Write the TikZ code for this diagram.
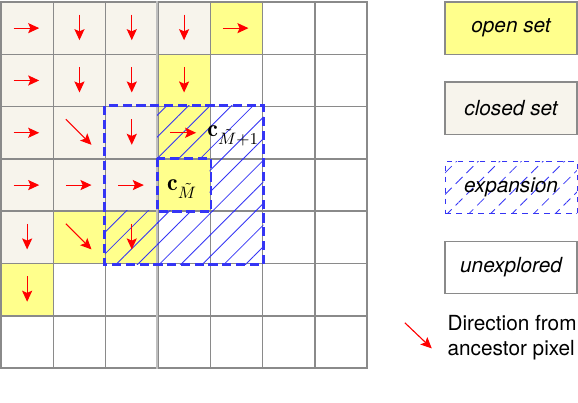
\documentclass[tikz,border=0pt]{standalone}
\usepackage{fontspec}
\setsansfont{TeX Gyre Heros}
\usetikzlibrary{arrows.meta,patterns.meta,positioning}
\definecolor{openc}{HTML}{FFFF8C}
\definecolor{closedc}{HTML}{F7F4EC}
\definecolor{gridc}{HTML}{8A8A8A}
\definecolor{expc}{HTML}{3535F5}
\begin{document}
\begin{tikzpicture}[x=1cm,y=1cm,
  cell/.style={rectangle,draw=gridc,line width=0.8pt,minimum size=1cm,inner sep=0pt},
  openset/.style={fill=openc},
  closedset/.style={fill=closedc},
  unexpl/.style={fill=white},
  hatch/.style={pattern={Lines[angle=45,distance=8.3pt,line width=0.45pt]},pattern color=expc},
  dir/.style={red,line width=0.6pt,-{Stealth[length=6pt,width=5.5pt,inset=1.2pt]}},
  expborder/.style={draw=expc,line width=1.6pt,dash pattern=on 5pt off 2.5pt},
  legbox/.style={rectangle,draw=gridc,line width=0.8pt,minimum width=2.52cm,minimum height=1cm,
                 font=\fontsize{11.3}{13.6}\selectfont\sffamily\itshape},
  node distance=5mm]
\useasboundingbox (-0.019,-0.648) rectangle (11.03,7.038);

% grid of pixels
\foreach \row [count=\r from 0] in {
  {closedset,closedset,closedset,closedset,openset,unexpl,unexpl},
  {closedset,closedset,closedset,openset,unexpl,unexpl,unexpl},
  {closedset,closedset,closedset,openset,unexpl,unexpl,unexpl},
  {closedset,closedset,closedset,openset,unexpl,unexpl,unexpl},
  {closedset,openset,openset,unexpl,unexpl,unexpl,unexpl},
  {openset,unexpl,unexpl,unexpl,unexpl,unexpl,unexpl},
  {unexpl,unexpl,unexpl,unexpl,unexpl,unexpl,unexpl}}
  \foreach \s [count=\c from 0] in \row
    \node[cell,\s] (p\r\c) at (\c+0.5,6.5-\r) {};
\draw[gridc!55,line width=0.8pt] (p03.north west) -- (p63.south west);

% expansion of the current pixel
\foreach \p in {p23,p24,p34,p42,p43,p44}
  \path[hatch] (\p.south west) rectangle (\p.north east);

% direction from ancestor pixel
\foreach \p/\dx/\dy in {p00/1/0,p01/0/-1,p02/0/-1,p03/0/-1,p04/1/0,
                        p10/1/0,p11/0/-1,p12/0/-1,p13/0/-1,
                        p20/1/0,p21/1/-1,p22/0/-1,p23/1/0,
                        p30/1/0,p31/1/0,p32/1/0,
                        p40/0/-1,p41/1/-1,p42/0/-1,p50/0/-1}
  \draw[dir] (\p.center) ++(-0.26*\dx,-0.26*\dy) -- ++(0.49*\dx,0.49*\dy);

\draw[expborder] (p22.north west) rectangle (p44.south east);
\draw[expborder] (p33.north west) rectangle (p33.south east);

\node[anchor=base west,inner sep=0pt,font=\fontsize{13}{15}\selectfont] (cnext) at (3.94,4.42)
  {$\mathbf{c}_{\tilde M+1}$};
\node[anchor=base west,inner sep=0pt,font=\fontsize{13}{15}\selectfont] (ccur) at (3.17,3.39)
  {$\mathbf{c}_{\tilde M}$};

% legend
\node[legbox,fill=openc] (lopen) at (9.75,6.5) {open set};
\node[legbox,fill=closedc,below=of lopen] (lclosed) {closed set};
\node[legbox,hatch,draw=expc,dashed,line width=0.5pt,below=of lclosed] (lexp) {expansion};
\node[legbox,fill=white,below=of lexp] (lunexp) {unexplored};
\coordinate (dtail) at (7.72,0.868);
\coordinate (dhead) at (8.235,0.378);
\draw[dir] (dtail) -- (dhead);
\node[anchor=west,align=left,inner sep=0pt,font=\fontsize{11.3}{13.6}\selectfont\sffamily] (ldir) at (8.53,0.585)
  {Direction from\\ ancestor pixel};
\end{tikzpicture}
\end{document}
